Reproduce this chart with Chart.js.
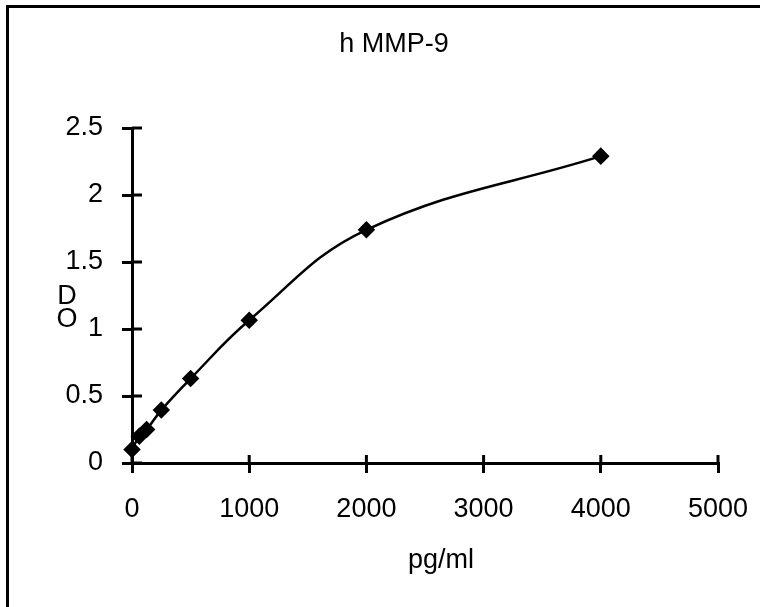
<!DOCTYPE html>
<html>
<head>
<meta charset="utf-8">
<script src="https://cdn.jsdelivr.net/npm/chart.js@4.4.0/dist/chart.umd.min.js"></script>
<style>
  html, body { margin: 0; padding: 0; background: #fff; overflow: hidden; }
  #wrap { position: relative; width: 760px; height: 607px; }
  #frame { position: absolute; left: 6px; top: 5px; width: 800px; height: 700px;
           border: 3px solid #000; box-sizing: border-box; }
  canvas { position: absolute; left: 0; top: 0; }
</style>
</head>
<body>
<div id="wrap">
  <div id="frame"></div>
  <canvas id="myChart" width="760" height="607"></canvas>
</div>
<script>
// standard curve data
const concentrations = [0, 62.5, 125, 250, 500, 1000, 2000, 4000];
const odValues = [0.1, 0.2, 0.25, 0.395, 0.63, 1.065, 1.74, 2.29];
const xTicks = [0, 1000, 2000, 3000, 4000, 5000];
const yTicks = [0, 0.5, 1, 1.5, 2, 2.5];
const chartTitle = 'h MMP-9';
const xTitle = 'pg/ml';
const yTitleLetters = ['D', 'O'];

const FONT = '"Liberation Sans", Arial, sans-serif';
const SIZE = 27;

// ticks that cross the axis line (Chart.js only draws the outer half)
const crossTicks = {
  id: 'crossTicks',
  afterDraw(chart) {
    const { ctx, chartArea, scales } = chart;
    ctx.save();
    ctx.strokeStyle = '#000';
    ctx.lineWidth = 3;
    ctx.beginPath();
    xTicks.forEach(v => {
      const px = scales.x.getPixelForValue(v);
      ctx.moveTo(px, chartArea.bottom);
      ctx.lineTo(px, chartArea.bottom - 8);
    });
    yTicks.forEach(v => {
      const py = scales.y.getPixelForValue(v);
      ctx.moveTo(chartArea.left, py);
      ctx.lineTo(chartArea.left + 10, py);
    });
    ctx.stroke();

    // texts
    ctx.fillStyle = '#000';
    ctx.textAlign = 'center';
    ctx.textBaseline = 'middle';
    ctx.font = SIZE + 'px ' + FONT;
    ctx.fillText(chartTitle, 394, 45);
    ctx.fillText(xTitle, 441, 561);
    ctx.fillText(yTitleLetters[0], 67, 297);
    ctx.fillText(yTitleLetters[1], 67, 320);
    ctx.restore();
  }
};

new Chart(document.getElementById('myChart'), {
  type: 'scatter',
  data: {
    datasets: [{
      data: concentrations.map((c, i) => ({ x: c, y: odValues[i] })),
      showLine: true,
      tension: 0.4,
      clip: false,
      borderColor: '#000',
      backgroundColor: '#000',
      borderWidth: 2.5,
      pointStyle: 'rectRot',
      pointRadius: 7,
      pointHoverRadius: 7
    }]
  },
  options: {
    responsive: false,
    animation: false,
    layout: { padding: { left: 0, right: 42, top: 128, bottom: 0 } },
    plugins: { legend: { display: false }, tooltip: { enabled: false } },
    scales: {
      x: {
        type: 'linear',
        min: 0, max: 5000,
        afterBuildTicks: s => { s.ticks = xTicks.map(v => ({ value: v })); },
        afterFit: s => { s.height = 144; s.paddingLeft = 0; s.paddingRight = 0; },
        border: { color: '#000', width: 3 },
        grid: { drawOnChartArea: false, color: '#000', lineWidth: 3, tickLength: 10 },
        ticks: { color: '#000', padding: 20, font: { family: FONT, size: SIZE },
                 callback: v => String(v) }
      },
      y: {
        type: 'linear',
        min: 0, max: 2.5,
        afterBuildTicks: s => { s.ticks = yTicks.map(v => ({ value: v })); },
        afterFit: s => { s.width = 132; s.paddingTop = 0; s.paddingBottom = 0; },
        border: { color: '#000', width: 3 },
        grid: { drawOnChartArea: false, color: '#000', lineWidth: 3, tickLength: 10 },
        ticks: { color: '#000', padding: 19, font: { family: FONT, size: SIZE },
                 callback: v => String(v) }
      }
    }
  },
  plugins: [crossTicks]
});
</script>
</body>
</html>
